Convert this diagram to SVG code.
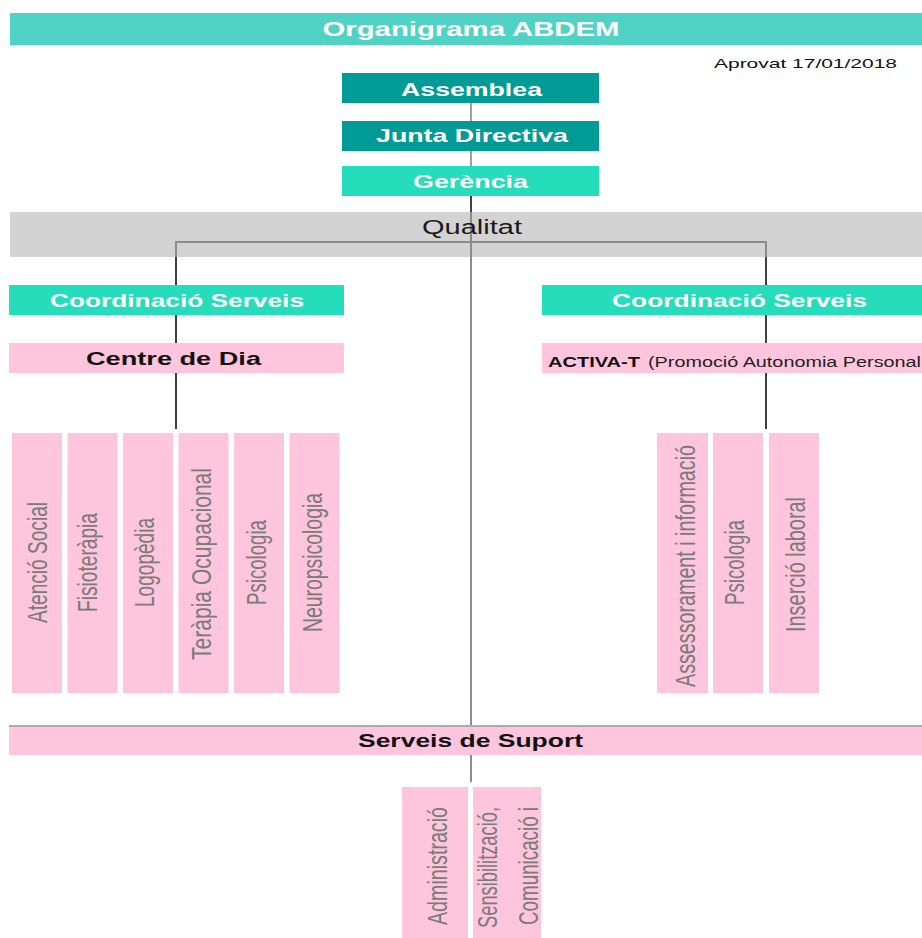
<svg xmlns="http://www.w3.org/2000/svg" width="922" height="938" viewBox="0 0 922 938">
<style>
.b{font-family:"Liberation Sans",Arial,sans-serif;font-weight:bold}
.w{fill:#ffffff}
.k{fill:#111111}
.r{font-family:"Liberation Sans",Arial,sans-serif;font-size:28px;fill:#7a7a7a}
.pink{fill:#ffc5dc}
.teal{fill:#009a97}
.aqua{fill:#25ddbb}
.dk{stroke:#404040;stroke-width:2;fill:none}
.gr{stroke:#8c8c8c;stroke-width:2;fill:none}
.lg{stroke:#a0a0a0;stroke-width:2;fill:none}
</style>
<rect width="922" height="938" fill="#ffffff"/>
<g id="title">
<rect x="10" y="13" width="912" height="32" fill="#50d2c5"/>
<text class="b w" x="471" y="36" font-size="20" text-anchor="middle" textLength="297" lengthAdjust="spacingAndGlyphs">Organigrama ABDEM</text>
</g>
<text x="714" y="68" font-family="Liberation Sans,Arial,sans-serif" font-size="13" fill="#111" textLength="183" lengthAdjust="spacingAndGlyphs">Aprovat 17/01/2018</text>
<g id="qualitat">
<rect x="10" y="212" width="912" height="45" fill="#d3d3d3"/>
</g>
<g id="connectors">
<line class="lg" x1="471" y1="103" x2="471" y2="121"/>
<line class="lg" x1="471" y1="151" x2="471" y2="166"/>
<line class="dk" x1="471" y1="196" x2="471" y2="212"/>
<line class="gr" x1="471" y1="212" x2="471" y2="782"/>
<polyline class="gr" points="176,257 176,242 766,242 766,257"/>
<line class="dk" x1="176" y1="257" x2="176" y2="285"/>
<line class="dk" x1="766" y1="257" x2="766" y2="285"/>
<line class="dk" x1="176" y1="315" x2="176" y2="343"/>
<line class="dk" x1="176" y1="373" x2="176" y2="429"/>
<line class="dk" x1="766" y1="315" x2="766" y2="343"/>
<line class="dk" x1="766" y1="373" x2="766" y2="429"/>
<line x1="9" y1="726" x2="922" y2="726" stroke="#ababab" stroke-width="2"/>
</g>
<text x="472" y="234" font-family="Liberation Sans,Arial,sans-serif" font-size="20" fill="#1a1a1a" text-anchor="middle" textLength="100" lengthAdjust="spacingAndGlyphs">Qualitat</text>
<g id="assemblea">
<rect class="teal" x="342" y="73" width="257" height="30"/>
<text class="b w" x="471.5" y="96" font-size="19" text-anchor="middle" textLength="141" lengthAdjust="spacingAndGlyphs">Assemblea</text>
</g>
<g id="junta">
<rect class="teal" x="342" y="121" width="257" height="30"/>
<text class="b w" x="472" y="142" font-size="19" text-anchor="middle" textLength="192" lengthAdjust="spacingAndGlyphs">Junta Directiva</text>
</g>
<g id="gerencia">
<rect class="aqua" x="342" y="166" width="257" height="30"/>
<text class="b w" x="470.5" y="188" font-size="19" text-anchor="middle" textLength="115" lengthAdjust="spacingAndGlyphs">Gerència</text>
</g>
<g id="coord-left">
<rect class="aqua" x="9" y="285" width="335" height="30"/>
<text class="b w" x="177" y="307" font-size="19" text-anchor="middle" textLength="254" lengthAdjust="spacingAndGlyphs">Coordinació Serveis</text>
</g>
<g id="centre-dia">
<rect class="pink" x="9" y="343" width="335" height="30"/>
<text class="b k" x="173.5" y="365" font-size="19" text-anchor="middle" textLength="175" lengthAdjust="spacingAndGlyphs">Centre de Dia</text>
</g>
<g id="coord-right">
<rect class="aqua" x="542" y="285" width="380" height="30"/>
<text class="b w" x="739.5" y="307" font-size="19" text-anchor="middle" textLength="255" lengthAdjust="spacingAndGlyphs">Coordinació Serveis</text>
</g>
<g id="activa">
<rect class="pink" x="542" y="343" width="380" height="30"/>
<text class="b k" x="548" y="367" font-size="15" textLength="92" lengthAdjust="spacingAndGlyphs">ACTIVA-T</text>
<text x="648" y="367" font-family="Liberation Sans,Arial,sans-serif" font-size="14" fill="#222" textLength="273" lengthAdjust="spacingAndGlyphs">(Promoció Autonomia Personal</text>
</g>
<g id="atencio">
<rect class="pink" x="12" y="433" width="50" height="260"/>
<text class="r" transform="translate(47,562.5) rotate(-90)" text-anchor="middle" textLength="121" lengthAdjust="spacingAndGlyphs">Atenció Social</text>
</g>
<g id="fisio">
<rect class="pink" x="67.5" y="433" width="50" height="260"/>
<text class="r" transform="translate(97,562.5) rotate(-90)" text-anchor="middle" textLength="99" lengthAdjust="spacingAndGlyphs">Fisioteràpia</text>
</g>
<g id="logo">
<rect class="pink" x="123" y="433" width="50" height="260"/>
<text class="r" transform="translate(154,562.5) rotate(-90)" text-anchor="middle" textLength="89" lengthAdjust="spacingAndGlyphs">Logopèdia</text>
</g>
<g id="terapia">
<rect class="pink" x="178.5" y="433" width="50" height="260"/>
<text class="r" transform="translate(211,564) rotate(-90)" text-anchor="middle" textLength="192" lengthAdjust="spacingAndGlyphs">Teràpia Ocupacional</text>
</g>
<g id="psico1">
<rect class="pink" x="234" y="433" width="50" height="260"/>
<text class="r" transform="translate(266,562.5) rotate(-90)" text-anchor="middle" textLength="85" lengthAdjust="spacingAndGlyphs">Psicologia</text>
</g>
<g id="neuro">
<rect class="pink" x="289.5" y="433" width="50" height="260"/>
<text class="r" transform="translate(322,562.5) rotate(-90)" text-anchor="middle" textLength="139" lengthAdjust="spacingAndGlyphs">Neuropsicologia</text>
</g>
<g id="assessorament">
<rect class="pink" x="657" y="433" width="51" height="260"/>
<text class="r" transform="translate(695,566) rotate(-90)" text-anchor="middle" textLength="242" lengthAdjust="spacingAndGlyphs">Assessorament i informació</text>
</g>
<g id="psico2">
<rect class="pink" x="713" y="433" width="50" height="260"/>
<text class="r" transform="translate(744,562.5) rotate(-90)" text-anchor="middle" textLength="85" lengthAdjust="spacingAndGlyphs">Psicologia</text>
</g>
<g id="insercio">
<rect class="pink" x="769" y="433" width="50" height="260"/>
<text class="r" transform="translate(805,564.5) rotate(-90)" text-anchor="middle" textLength="135" lengthAdjust="spacingAndGlyphs">Inserció laboral</text>
</g>
<g id="suport">
<rect class="pink" x="9" y="727" width="913" height="28"/>
<text class="b k" x="470.5" y="747" font-size="19" text-anchor="middle" textLength="225" lengthAdjust="spacingAndGlyphs">Serveis de Suport</text>
</g>
<g id="administracio">
<rect class="pink" x="402" y="787" width="66" height="151"/>
<text class="r" transform="translate(447,866) rotate(-90)" text-anchor="middle" textLength="118" lengthAdjust="spacingAndGlyphs">Administració</text>
</g>
<g id="sensibilitzacio">
<rect class="pink" x="473" y="787" width="68" height="151"/>
<text class="r" transform="translate(497,867.5) rotate(-90)" text-anchor="middle" textLength="121" lengthAdjust="spacingAndGlyphs">Sensibilització,</text>
<text class="r" transform="translate(538,866) rotate(-90)" text-anchor="middle" textLength="118" lengthAdjust="spacingAndGlyphs">Comunicació i</text>
</g>
</svg>
